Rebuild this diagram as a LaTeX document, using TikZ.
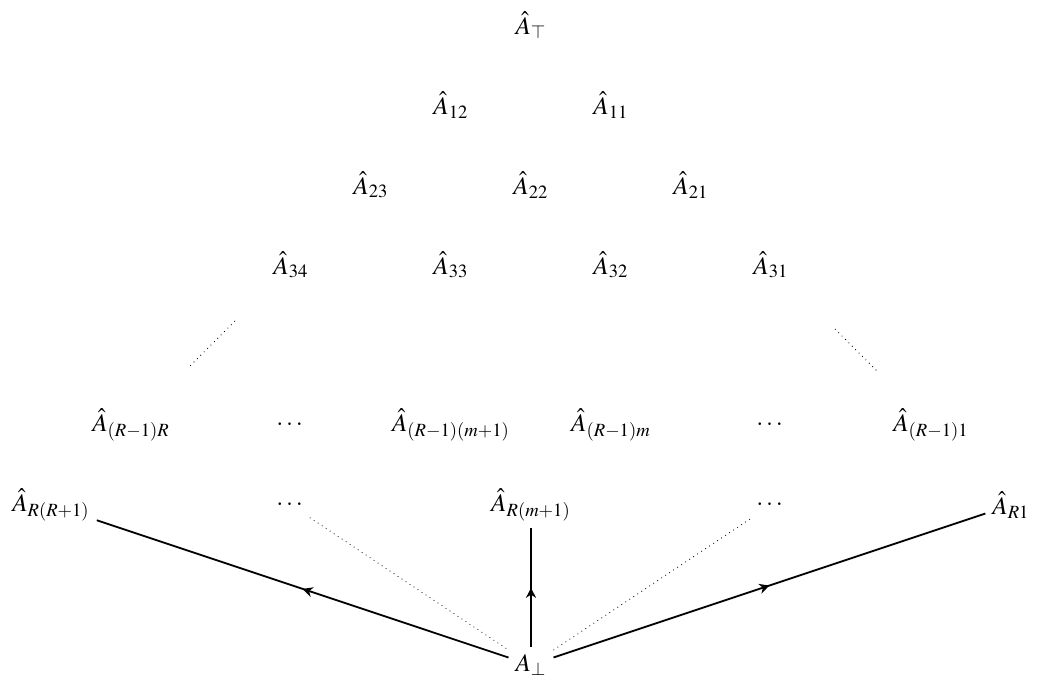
\documentclass[tikz,border=0pt]{standalone}
\usepackage{amsmath,amssymb}
\usepackage{mathptmx}
\usetikzlibrary{arrows.meta,decorations.markings,calc}

\begin{document}
\begin{tikzpicture}[
  x=40pt, y=-40pt,
  font=\fontsize{12.6pt}{15pt}\selectfont,
  arrow/.style = {line width=0.9pt, postaction={decorate},
    decoration={markings,
      mark=at position 0.5 with {\arrow{Stealth[length=5pt,width=5pt,inset=1.6pt]}}}},
  gap/.style   = {dotted, thin},
]
  \useasboundingbox (-6.6375,-0.3125) rectangle (6.3875,8.2);

  \node (top) at (0,0) {$\hat{A}_{\top}$};

  \node (a12) at (-1,1) {$\hat{A}_{12}$};
  \node (a11) at (1,1)  {$\hat{A}_{11}$};

  \node (a23) at (-2,2) {$\hat{A}_{23}$};
  \node (a22) at (0,2)  {$\hat{A}_{22}$};
  \node (a21) at (2,2)  {$\hat{A}_{21}$};

  \node (a34) at (-3,3) {$\hat{A}_{34}$};
  \node (a33) at (-1,3) {$\hat{A}_{33}$};
  \node (a32) at (1,3)  {$\hat{A}_{32}$};
  \node (a31) at (3,3)  {$\hat{A}_{31}$};

  \node (bR)  at (-5,5) {$\hat{A}_{(R-1)R}$};
  \node (bdl) at (-3,5) {$\cdots$};
  \node (bm1) at (-1,5) {$\hat{A}_{(R-1)(m+1)}$};
  \node (bm)  at (1,5)  {$\hat{A}_{(R-1)m}$};
  \node (bdr) at (3,5)  {$\cdots$};
  \node (b1)  at (5,5)  {$\hat{A}_{(R-1)1}$};

  \node (cR1) at (-6,6) {$\hat{A}_{R(R+1)}$};
  \node (cdl) at (-3,6) {$\cdots$};
  \node (cm1) at (0,6)  {$\hat{A}_{R(m+1)}$};
  \node (cdr) at (3,6)  {$\cdots$};
  \node (c1)  at (6,6)  {$\hat{A}_{R1}$};

  \node (bot) at (0,8) {$A_{\bot}$};

  \draw[gap] ($(a34)!0.35!(bR)$) -- ($(a34)!0.63!(bR)$);
  \draw[gap] ($(a31)!0.4!(b1)$) -- ($(a31)!0.67!(b1)$);
  \draw[gap] (cdl) -- (bot);
  \draw[gap] (bot) -- (cdr);

  \draw[arrow] (bot) -- (cR1);
  \draw[arrow] (bot) -- (cm1);
  \draw[arrow] (bot) -- (c1);
\end{tikzpicture}
\end{document}
